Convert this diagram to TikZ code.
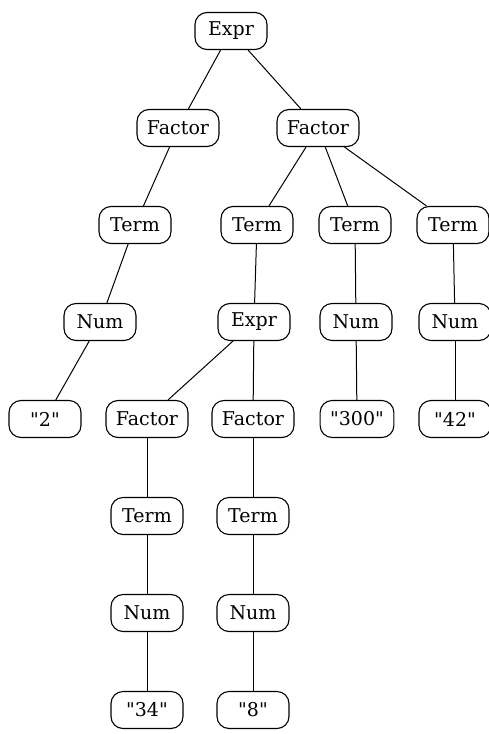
\documentclass[tikz,border=0pt]{standalone}
\usepackage{fontspec}
\setmainfont{DejaVu Serif}[Ligatures=TeXOff]
\usepackage{tikz}

\begin{document}
\begin{tikzpicture}[x=1pt, y=-1pt,
    box/.style={draw, rounded corners=12pt, line width=1.1pt,
        minimum width=72pt, minimum height=37pt, inner xsep=10pt,
        font=\fontsize{19}{22}\selectfont},
    edge/.style={line width=1pt}]
    \useasboundingbox (0,0) rectangle (488,734);

    % Top levels
    \node[box] (expr) at (231,31) {Expr};
    \node[box] (factorA) at (178,128) {Factor};
    \node[box] (factorB) at (318,128) {Factor};

    % Terms
    \node[box] (termA) at (135,225) {Term};
    \node[box] (termB) at (257,225) {Term};
    \node[box] (termC) at (355,225) {Term};
    \node[box] (termD) at (453,225) {Term};

    % Nums and inner expression
    \node[box] (numA) at (100,322) {Num};
    \node[box] (exprB) at (254,322) {Expr};
    \node[box] (numC) at (356,322) {Num};
    \node[box] (numD) at (455,322) {Num};

    % Leaves of the first levels
    \node[box] (litA) at (45,419) {"2"};
    \node[box] (factorC) at (147,419) {Factor};
    \node[box] (factorD) at (253,419) {Factor};
    \node[box] (litC) at (357,419) {"300"};
    \node[box] (litD) at (455,419) {"42"};

    % Inner expression branches
    \node[box] (termE) at (147,516) {Term};
    \node[box] (termF) at (253,516) {Term};
    \node[box] (numE) at (147,613) {Num};
    \node[box] (numF) at (253,613) {Num};
    \node[box] (litE) at (147,710) {"34"};
    \node[box] (litF) at (253,710) {"8"};

    % Edges
    \draw[edge] (expr) -- (factorA);
    \draw[edge] (expr) -- (factorB);
    \draw[edge] (factorA) -- (termA);
    \draw[edge] (termA) -- (numA);
    \draw[edge] (numA) -- (litA);
    \draw[edge] (factorB) -- (termB);
    \draw[edge] (factorB) -- (termC);
    \draw[edge] (factorB) -- (termD);
    \draw[edge] (termB) -- (exprB);
    \draw[edge] (exprB) -- (factorC);
    \draw[edge] (exprB) -- (factorD);
    \draw[edge] (factorC) -- (termE);
    \draw[edge] (termE) -- (numE);
    \draw[edge] (numE) -- (litE);
    \draw[edge] (factorD) -- (termF);
    \draw[edge] (termF) -- (numF);
    \draw[edge] (numF) -- (litF);
    \draw[edge] (termC) -- (numC);
    \draw[edge] (numC) -- (litC);
    \draw[edge] (termD) -- (numD);
    \draw[edge] (numD) -- (litD);
\end{tikzpicture}
\end{document}
